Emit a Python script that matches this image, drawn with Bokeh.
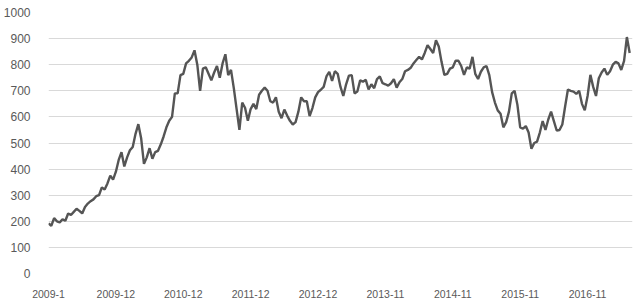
from bokeh.plotting import figure
from bokeh.models import Range1d, FixedTicker
from bokeh.embed import file_html
from bokeh.resources import INLINE

values = [
    192, 183, 212, 200, 196, 208, 202, 230, 224, 236,
    248, 240, 230, 255, 268, 277, 284, 296, 300, 330,
    322, 345, 375, 360, 390, 435, 465, 410, 445, 472,
    485, 535, 572, 518, 420, 445, 480, 440, 465, 470,
    495, 525, 560, 585, 600, 690, 690, 760, 765, 805,
    815, 828, 855, 800, 700, 785, 790, 765, 740, 770,
    795, 750, 805, 840, 760, 780, 710, 630, 550, 655,
    635, 585, 630, 650, 630, 685, 700, 712, 700, 660,
    655, 675, 620, 595, 628, 605, 585, 571, 580, 620,
    675, 660, 660, 603, 634, 675, 695, 704, 715, 755,
    773, 738, 775, 765, 715, 680, 725, 758, 760, 690,
    697, 740, 735, 742, 705, 725, 710, 745, 755, 729,
    725, 720, 729, 745, 712, 733, 745, 775, 780, 788,
    805, 818, 830, 820, 845, 875, 860, 845, 894, 870,
    810, 761, 765, 785, 790, 815, 815, 795, 761, 790,
    785, 830, 765, 745, 773, 790, 795, 760, 695, 655,
    625, 612, 560, 580, 620, 690, 700, 647, 560, 555,
    565, 540, 478, 500, 505, 540, 584, 550, 590, 620,
    584, 548, 550, 571, 640, 705, 700, 697, 688, 700,
    650, 625, 680, 761, 715, 680, 748, 770, 785, 761,
    775, 800, 811, 805, 780, 815, 906, 845,
]
steps = list(range(len(values)))

# Category labels shown on the x axis (every 24 samples)
tick_positions = [0, 24, 48, 72, 96, 120, 144, 168, 192]
tick_labels = ["2009-1", "2009-12", "2010-12", "2011-12", "2012-12",
               "2013-11", "2014-11", "2015-11", "2016-11"]
y_ticks = list(range(0, 1001, 100))

p = figure(width=640, height=300, output_backend="svg", toolbar_location=None,
           x_range=Range1d(0, 208), y_range=Range1d(0, 1000),
           min_border_left=47, min_border_right=8, min_border_top=12,
           min_border_bottom=26)
p.outline_line_color = None
p.background_fill_color = "white"
p.border_fill_color = "white"

p.line(steps, values, line_color="#555555", line_width=2.4)

p.xaxis.ticker = FixedTicker(ticks=tick_positions)
p.xaxis.major_label_overrides = {t: l for t, l in zip(tick_positions, tick_labels)}
p.yaxis.ticker = FixedTicker(ticks=y_ticks)

for ax in (p.xaxis[0], p.yaxis[0]):
    ax.axis_line_color = None
    ax.major_tick_line_color = None
    ax.minor_tick_line_color = None
    ax.major_label_text_color = "#595959"
    ax.major_label_text_font = "Liberation Sans"

p.yaxis.major_label_text_font_size = "12px"
p.yaxis.major_label_standoff = 12
p.xaxis.major_label_text_font_size = "10.5px"
p.xaxis.major_label_standoff = 10

p.xgrid.grid_line_color = None
p.ygrid.ticker = FixedTicker(ticks=y_ticks)
p.ygrid.grid_line_color = "#d9d9d9"
p.ygrid.grid_line_width = 1

open("out.html", "w").write(file_html(p, INLINE))
